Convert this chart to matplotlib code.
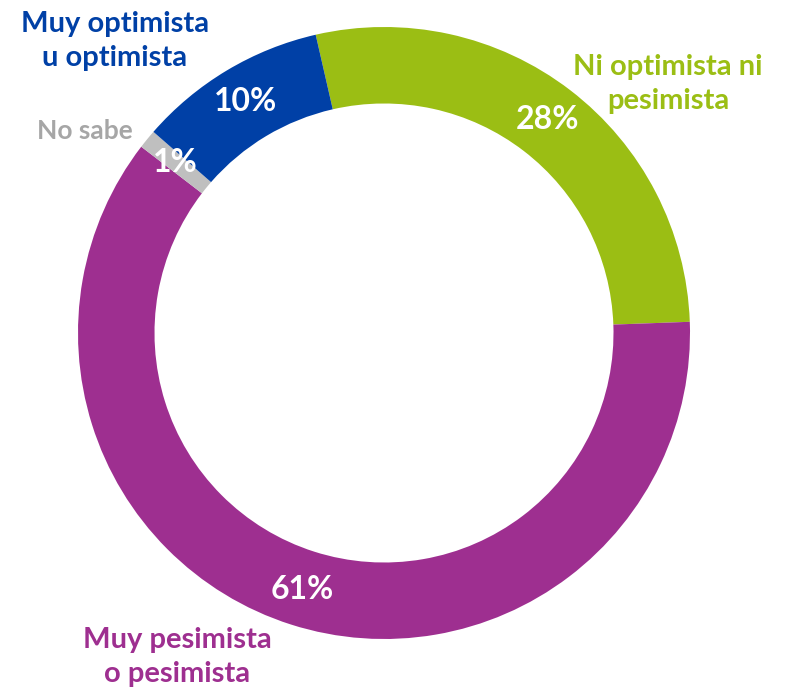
import matplotlib.pyplot as plt
import numpy as np

# data
labels = ['Ni optimista ni\npesimista', 'Muy pesimista\no pesimista', 'No sabe', 'Muy optimista\nu optimista']
values = [28, 61, 1, 10]
colors = ['#9BBE14', '#9E2F90', '#BFBFBF', '#0040A6']
label_colors = ['#9BBE14', '#9E2F90', '#A6A6A6', '#0040A6']

plt.rcParams['font.family'] = ['Lato', 'DejaVu Sans']

fig = plt.figure(figsize=(8.1, 6.93), dpi=100)
W, H = 810, 693
cx, cy, R = 384, 333, 306
ax = fig.add_axes([(cx - R) / W, (H - cy - R) / H, 2 * R / W, 2 * R / H])

wedges, texts = ax.pie(values, colors=colors, startangle=102.9, counterclock=False,
                       radius=1.0, wedgeprops=dict(width=0.25, edgecolor='none'))

# percentage labels at the middle of each ring segment
for w, v in zip(wedges, values):
    ang = np.deg2rad((w.theta1 + w.theta2) / 2)
    ax.text(0.88 * np.cos(ang), 0.88 * np.sin(ang), str(v) + '%', color='white',
            fontsize=23, fontweight='bold', ha='center', va='center')

# outer labels (pixel positions of the reference converted to data units)
label_pos = [(668, 84), (177, 657), (85, 131), (115, 41)]
label_size = [21, 21, 19, 21]
for lab, col, (px, py), fs in zip(labels, label_colors, label_pos, label_size):
    ax.text((px - cx) / R, (cy - py) / R, lab, color=col, fontsize=fs, fontweight='bold',
            ha='center', va='center', linespacing=1.35, clip_on=False)

ax.set_xlim(-1, 1)
ax.set_ylim(-1, 1)
ax.set_aspect('equal')
ax.axis('off')

fig.savefig('out.png', dpi=100)
